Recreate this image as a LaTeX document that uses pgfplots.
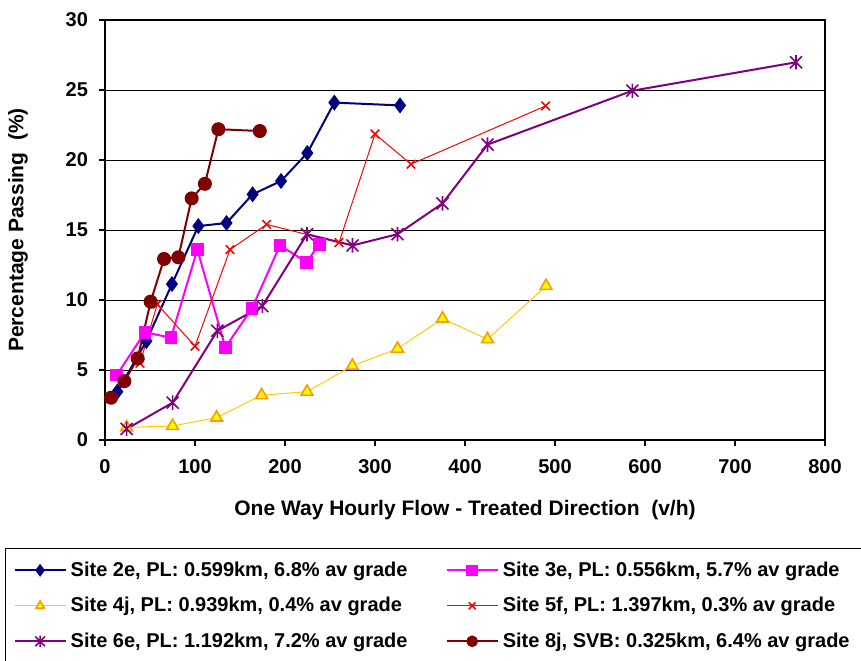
\documentclass[border=0pt]{standalone}
\usepackage{fontspec}
\setmainfont{Liberation Sans}
\usepackage{pgfplots}
\pgfplotsset{compat=1.18}
\definecolor{cnavy}{HTML}{000080}
\definecolor{cmag}{HTML}{FF00FF}
\definecolor{cyel}{HTML}{FFCC00}
\definecolor{cyfill}{HTML}{FFFF00}
\definecolor{corange}{HTML}{FF9900}
\definecolor{cred}{HTML}{FF0000}
\definecolor{cpurp}{HTML}{800080}
\definecolor{cmaroon}{HTML}{800000}
\pgfdeclareplotmark{xstar}{%
 \pgfpathmoveto{\pgfqpoint{-\pgfplotmarksize}{-\pgfplotmarksize}}%
 \pgfpathlineto{\pgfqpoint{\pgfplotmarksize}{\pgfplotmarksize}}%
 \pgfpathmoveto{\pgfqpoint{-\pgfplotmarksize}{\pgfplotmarksize}}%
 \pgfpathlineto{\pgfqpoint{\pgfplotmarksize}{-\pgfplotmarksize}}%
 \pgfpathmoveto{\pgfqpoint{0pt}{-1.2\pgfplotmarksize}}%
 \pgfpathlineto{\pgfqpoint{0pt}{1.2\pgfplotmarksize}}%
 \pgfusepathqstroke}
\begin{document}
\begin{tikzpicture}
\useasboundingbox (-52.5pt,-110pt) rectangle ++(430.5pt,330pt);
\begin{axis}[
 at={(0pt,0pt)}, anchor=south west,
 scale only axis, width=360pt, height=210pt,
 xmin=0, xmax=800, ymin=0, ymax=30,
 xtick={0,100,...,800}, ytick={0,5,...,30},
 xtick pos=bottom, ytick pos=left,
 tick align=outside, major tick length=3pt,
 tick style={black, line width=0.6pt},
 ymajorgrids, major grid style={black, line width=0.5pt},
 axis line style={black, line width=0.6pt},
 /pgf/number format/assume math mode=true,
 ticklabel style={font=\bfseries\fontsize{10}{12}\selectfont},
 xticklabel style={yshift=-3pt},
 yticklabel style={xshift=-2pt},
 label style={font=\bfseries\fontsize{10.5}{12}\selectfont},
 xlabel={One Way Hourly Flow - Treated Direction\ \ (v/h)},
 ylabel={Percentage Passing\ \ (\%)},
 xlabel style={at={(axis description cs:0.5,0)}, anchor=center, yshift=-35pt},
 ylabel style={at={(axis description cs:0,0.5)}, anchor=center, yshift=43.5pt},
 legend columns=2,
 legend cell align=left,
 legend style={at={(-0.139,-0.257)}, anchor=north west, draw=black, line width=0.6pt,
   font=\bfseries\fontsize{10}{12}\selectfont, row sep=5pt, inner xsep=4pt, inner ysep=4.5pt,
   /tikz/every even column/.append style={column sep=17pt}},
 legend image code/.code={\draw[mark repeat=2, mark phase=2, mark size=2.4pt] plot coordinates {(0cm,0cm) (0.45cm,0cm) (0.9cm,0cm)};},
]
\addplot[cnavy, line width=1pt, mark=diamond*, mark size=3.2pt, mark options={fill=cnavy}] coordinates {
(13.7,3.45) (46,7.07) (74.4,11.14) (103.7,15.28) (135,15.5) (164,17.55) (195.6,18.5) (224.8,20.5) (254.8,24.1) (327.8,23.9)};
\addlegendentry{Site 2e, PL: 0.599km, 6.8\% av grade}
\addplot[cmag, line width=1pt, mark=square*, mark size=2.7pt, mark options={fill=cmag}] coordinates {
(13,4.64) (44.4,7.69) (73.3,7.31) (102.6,13.6) (133.7,6.62) (163.3,9.4) (194.4,13.9) (224,12.7) (238,13.98)};
\addlegendentry{Site 3e, PL: 0.556km, 5.7\% av grade}
\addplot[cyel, line width=0.5pt, mark=triangle*, mark size=3.4pt, mark options={fill=cyfill, draw=corange, line width=0.8pt}] coordinates {
(24,0.9) (75,1.0) (124,1.6) (174,3.2) (224.4,3.45) (274.8,5.3) (325,6.52) (375,8.67) (425,7.2) (490,11.0)};
\addlegendentry{Site 4j, PL: 0.939km, 0.4\% av grade}
\addplot[cred, line width=0.5pt, mark=x, mark size=3pt, mark options={line width=0.8pt}] coordinates {
(38.9,5.48) (58,9.7) (100,6.7) (138.9,13.6) (179.6,15.4) (260,14.1) (300,21.86) (340,19.7) (489.6,23.86)};
\addlegendentry{Site 5f, PL: 1.397km, 0.3\% av grade}
\addplot[cpurp, line width=1pt, mark=xstar, mark size=3pt, mark options={line width=0.8pt}] coordinates {
(24,0.79) (75.2,2.67) (124.8,7.8) (174.8,9.57) (224.4,14.7) (275,13.9) (325,14.7) (375,16.9) (425,21.1) (586,24.95) (767.8,26.98)};
\addlegendentry{Site 6e, PL: 1.192km, 7.2\% av grade}
\addplot[cmaroon, line width=1pt, mark=*, mark size=3pt, mark options={fill=cmaroon}] coordinates {
(6.7,3.02) (21.5,4.2) (36.3,5.83) (50.7,9.88) (65.6,12.93) (81.5,13.05) (96.3,17.26) (111,18.3) (126,22.2) (172,22.07)};
\addlegendentry{Site 8j, SVB: 0.325km, 6.4\% av grade}
\draw[black, line width=1.5pt] (rel axis cs:0,1) -- (rel axis cs:0,0) -- (rel axis cs:1,0);
\end{axis}
\end{tikzpicture}
\end{document}
